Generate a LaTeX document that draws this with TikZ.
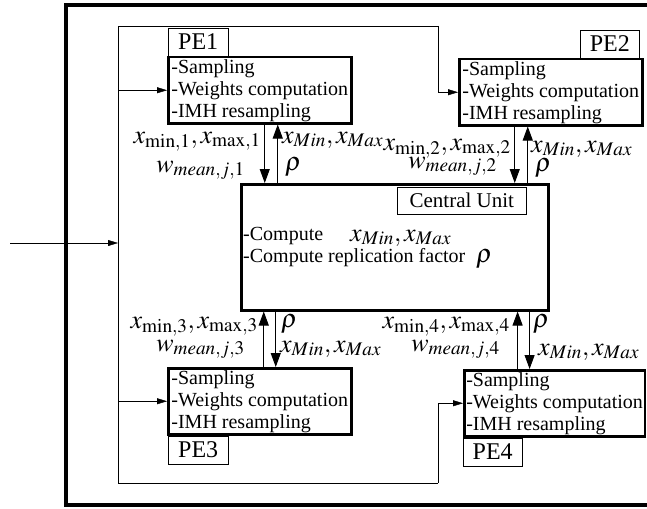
\documentclass[tikz,border=0pt]{standalone}
\usepackage{mathptmx}
\usepackage{fontspec}
\setmainfont{Liberation Serif}
\usetikzlibrary{positioning, arrows.meta}

\begin{document}
\begin{tikzpicture}[x=1pt, y=-1pt,
    pe/.style={draw, line width=2.5pt, anchor=north west, minimum width=183pt, minimum height=66pt, inner xsep=2pt, inner ysep=1pt, align=left, font=\fontsize{20}{22}\selectfont},
    unit/.style={draw, line width=2.5pt, anchor=north west, minimum width=307pt, minimum height=126pt},
    tag/.style={draw, thin, minimum width=60pt, minimum height=28pt, inner sep=0pt, font=\fontsize{24}{26}\selectfont},
    txt/.style={inner sep=0pt, font=\fontsize{20}{22}\selectfont},
    lbl/.style={inner sep=0pt, font=\fontsize{26}{30}\selectfont},
    varrow/.style={-{Triangle[length=14pt,width=10pt]}, line width=1pt},
    harrow/.style={-{Triangle[length=10pt,width=6pt]}, thin}
]
    \useasboundingbox (0,0) rectangle (647,508);

    % outer frame, cut at the right edge
    \draw[line width=4pt] (647,5) -- (66,5) -- (66,505) -- (647,505);

    % processing elements and central unit
    \node[pe] (pe1) at (167,56) {-Sampling\\-Weights computation\\-IMH resampling};
    \node[pe] (pe2) at (458,58) {-Sampling\\-Weights computation\\-IMH resampling};
    \node[pe] (pe3) at (167,367) {-Sampling\\-Weights computation\\-IMH resampling};
    \node[pe, minimum width=179pt] (pe4) at (463,369) {-Sampling\\-Weights computation\\-IMH resampling};
    \node[unit] (cu) at (240,183) {};

    \node[tag, anchor=south west] (tag1) at ([xshift=1pt]pe1.north west) {PE1};
    \node[tag, anchor=south east, minimum width=59pt] (tag2) at ([xshift=-4pt]pe2.north east) {PE2};
    \node[tag, anchor=north west] (tag3) at ([xshift=1pt]pe3.south west) {PE3};
    \node[tag, anchor=north west, minimum width=59pt] (tag4) at (pe4.south west) {PE4};
    \node[tag, anchor=north east, minimum width=129pt, minimum height=27pt, font=\fontsize{21}{24}\selectfont] (tagcu) at ([xshift=-23pt, yshift=-4pt]cu.north east) {Central Unit};

    \node[txt, anchor=base west] (cmp1) at (243,240) {-Compute};
    \node[txt, anchor=base west] (cmp2) at (243,262) {-Compute replication factor};
    \node[lbl, anchor=base west] (cmx) at (350,241) {$x_{Min},x_{Max}$};
    \node[lbl, anchor=base west] (cmr) at (476,262) {$\rho$};

    % distribution lines
    \coordinate (src) at (10,243);
    \coordinate (tl) at (118,26);
    \coordinate (bl) at (118,483);
    \coordinate (tr) at (438,26);
    \coordinate (br) at (438,483);
    \draw[thin] (tr) -- (tl) -- (bl) -- (br);
    \draw[harrow] (src) -- (src -| tl);
    \draw[harrow] (tl |- pe1.west) -- (pe1.west);
    \draw[harrow] (bl |- pe3.west) -- (pe3.west);
    \draw[harrow] (tr) |- (pe2.west);
    \draw[harrow] (br) |- (pe4.west);

    % PE <-> central unit
    \draw[varrow] ([xshift=5pt]pe1.south) -- ([xshift=5pt]pe1.south |- cu.north);
    \draw[varrow] ([xshift=18pt]pe1.south |- cu.north) -- ([xshift=18pt]pe1.south);
    \draw[varrow] ([xshift=-36pt]pe2.south) -- ([xshift=-36pt]pe2.south |- cu.north);
    \draw[varrow] ([xshift=-23pt]pe2.south |- cu.north) -- ([xshift=-23pt]pe2.south);
    \draw[varrow] ([xshift=4pt]pe3.north) -- ([xshift=4pt]pe3.north |- cu.south);
    \draw[varrow] ([xshift=16pt]pe3.north |- cu.south) -- ([xshift=16pt]pe3.north);
    \draw[varrow] ([xshift=-37pt]pe4.north) -- ([xshift=-37pt]pe4.north |- cu.south);
    \draw[varrow] ([xshift=-25pt]pe4.north |- cu.south) -- ([xshift=-25pt]pe4.north);

    % labels
    \node[lbl, anchor=base east] (up1) at (261,143) {$x_{\mathrm{min},1},x_{\mathrm{max},1}$};
    \node[lbl, anchor=base east] (w1) at (245,172) {$w_{mean,j,1}$};
    \node[lbl, anchor=base west] (dn1) at (282,143) {$x_{Min},x_{Max}$};
    \node[lbl, anchor=base west] (r1) at (285,170) {$\rho$};

    \node[lbl, anchor=base east] (up2) at (511,150) {$x_{\mathrm{min},2},x_{\mathrm{max},2}$};
    \node[lbl, anchor=base east] (w2) at (497,168) {$w_{mean,j,2}$};
    \node[lbl, anchor=base west] (dn2) at (531,152) {$x_{Min},x_{Max}$};
    \node[lbl, anchor=base west] (r2) at (535,171) {$\rho$};

    \node[lbl, anchor=base east] (up3) at (258,328) {$x_{\mathrm{min},3},x_{\mathrm{max},3}$};
    \node[lbl, anchor=base east] (w3) at (245,351) {$w_{mean,j,3}$};
    \node[lbl, anchor=base west] (r3) at (281,327) {$\rho$};
    \node[lbl, anchor=base west] (dn3) at (280,352) {$x_{Min},x_{Max}$};

    \node[lbl, anchor=base east] (up4) at (510,328) {$x_{\mathrm{min},4},x_{\mathrm{max},4}$};
    \node[lbl, anchor=base east] (w4) at (500,351) {$w_{mean,j,4}$};
    \node[lbl, anchor=base west] (r4) at (533,327) {$\rho$};
    \node[lbl, anchor=base west] (dn4) at (538,355) {$x_{Min},x_{Max}$};
\end{tikzpicture}
\end{document}
